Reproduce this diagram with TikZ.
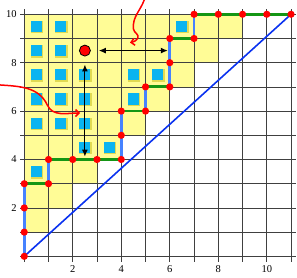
\documentclass[tikz,border=0pt]{standalone}
\usepackage{fontspec}
\setmainfont{Liberation Serif}
\usepackage{tikz}
\usetikzlibrary{arrows.meta}
\usepackage{xcolor}
\definecolor{padyellow}{RGB}{255,252,150}
\definecolor{sqblue}{RGB}{10,180,240}
\definecolor{stepgreen}{RGB}{20,150,20}
\definecolor{stepblue}{RGB}{70,130,255}
\definecolor{diagblue}{RGB}{10,50,240}

\begin{document}
\begin{tikzpicture}[
    x=24.25pt, y=24.2pt,
    region/.style={fill=padyellow},
    cellbox/.style={fill=sqblue},
    cellshade/.style={fill=olive!60!yellow, opacity=0.45},
    gridline/.style={draw=black!75, line width=0.7pt},
    hstep/.style={draw=stepgreen, line width=2.8pt},
    vstep/.style={draw=stepblue, line width=2.8pt},
    diag/.style={draw=diagblue, line width=1.6pt},
    dot/.style={fill=red},
    probe/.style={circle, fill=red, draw=black, line width=0.8pt, minimum size=11pt, inner sep=0pt},
    dist/.style={{Latex[length=7pt,width=6pt]}-{Latex[length=7pt,width=6pt]}, line width=1.2pt, shorten <=8pt},
    curly/.style={-{Straight Barb[length=3.5pt,width=7pt]}, red, line width=1.5pt},
    lbl/.style={font=\fontsize{10.5}{12}\selectfont, inner sep=1pt},
]
\useasboundingbox (-1.0,-0.855) rectangle (11.245,10.59);
\fill[region] (0,10) -- (0,1) -| (1,2) -| (2,3) -| (3,4) -| (4,5) -| (5,6) -| (6,7) -| (7,8) -| (8,9) -| (9,10) -- cycle;
\foreach \i/\j in {0/9,1/9,6/9,0/8,1/8,0/7,1/7,2/7,4/7,5/7,0/6,1/6,2/6,4/6,0/5,1/5,2/5,2/4,3/4,0/3} {
    \fill[cellshade] (\i+0.27,\j+0.21) rectangle (\i+0.79,\j+0.73);
    \fill[cellbox] (\i+0.27,\j+0.27) rectangle (\i+0.73,\j+0.73);
}
\foreach \k in {0,...,11}
    \draw[gridline] (\k,-0.22) -- (\k,10.2);
\foreach \k in {0,...,10}
    \draw[gridline] (-0.16,\k) -- (11.2,\k);
\foreach \v in {2,4,6,8,10} {
    \node[lbl, anchor=east] (ly\v) at (-0.27,\v) {\v};
    \node[lbl, anchor=north] (lx\v) at (\v,-0.32) {\v};
}
\draw[diag] (0,0) -- (11,10);
\draw[vstep] (0,0) -- (0,3) (1,3) -- (1,4) (4,4) -- (4,6) (5,6) -- (5,7) (6,7) -- (6,9) (7,9) -- (7,10);
\draw[hstep] (0,3) -- (1,3) (1,4) -- (4,4) (4,6) -- (5,6) (5,7) -- (6,7) (6,9) -- (7,9) (7,10) -- (11,10);
\foreach \p in {(0,0),(0,1),(0,2),(0,3),(1,3),(1,4),(2,4),(3,4),(4,4),(4,5),(4,6),(5,6),(5,7),(6,7),(6,8),(6,9),(7,9),(7,10),(8,10),(9,10),(10,10),(11,10)}
    \fill[dot] \p circle (3.6pt);
\node[probe] (pt) at (2.5,8.5) {};
\coordinate (vend) at (2.5,4.12);
\coordinate (hend) at (5.92,8.5);
\draw[dist] (pt) -- (vend);
\draw[dist] (pt) -- (hend);
\coordinate (ltail) at (-1.0,7.08);
\coordinate (lhead) at (2.3,5.92);
\draw[curly] (ltail) to[out=-4,in=115] (0.95,6.25) to[out=-65,in=180] (lhead);
\coordinate (ttail) at (4.95,10.6);
\coordinate (thead) at (4.36,8.83);
\draw[curly] (ttail) to[out=-110,in=95] (4.5,9.4) to[out=-85,in=60] (4.68,9.02) to[out=-120,in=10] (thead);
\end{tikzpicture}
\end{document}
